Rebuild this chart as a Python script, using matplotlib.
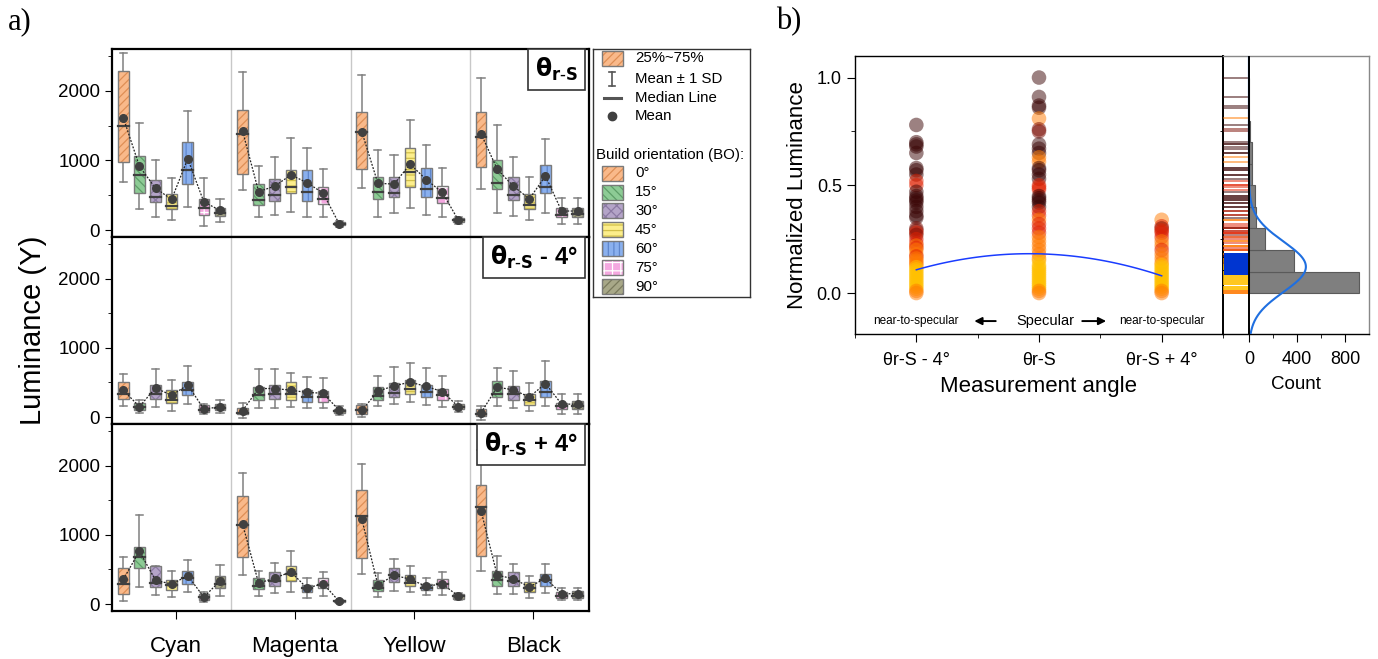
import numpy as np
import matplotlib
matplotlib.use("Agg")
import matplotlib.pyplot as plt
from matplotlib.patches import Rectangle

plt.rcParams['font.family'] = ['Liberation Sans', 'DejaVu Sans']
plt.rcParams['hatch.linewidth'] = 0.9

# ---------------- panel a data ----------------
inks = ['Cyan', 'Magenta', 'Yellow', 'Black']
orientations = ['0°', '15°', '30°', '45°', '60°', '75°', '90°']

# rows = ink, cols = build orientation
spec_q1 = [[974, 537, 398, 297, 662, 221, 201],
           [801, 360, 422, 532, 422, 374, 67],
           [878, 451, 470, 623, 470, 388, 120],
           [911, 595, 427, 302, 532, 182, 182]]
spec_med = [[1496, 787, 475, 345, 863, 312, 249],
            [1376, 427, 499, 623, 542, 441, 86],
            [1410, 542, 528, 839, 595, 456, 144],
            [1338, 681, 504, 360, 619, 216, 230]]
spec_q3 = [[2288, 1060, 724, 518, 1266, 451, 317],
           [1717, 662, 739, 858, 858, 619, 110],
           [1698, 758, 763, 1175, 887, 628, 168],
           [1698, 1002, 758, 518, 935, 321, 321]]
spec_mean = [[1614, 916, 600, 441, 1024, 403, 283],
             [1422, 551, 631, 791, 681, 530, 88],
             [1412, 671, 660, 947, 724, 540, 139],
             [1384, 875, 630, 448, 777, 273, 273]]
spec_sd = [[928, 619, 408, 302, 688, 340, 168],
           [846, 370, 415, 532, 499, 348, 40],
           [812, 480, 420, 636, 504, 348, 48],
           [794, 636, 425, 310, 537, 182, 182]]

minus_q1 = [[254, 96, 259, 206, 317, 67, 96],
            [38, 240, 259, 249, 216, 211, 58],
            [48, 240, 297, 336, 297, 249, 110],
            [19, 288, 249, 173, 297, 110, 110]]
minus_med = [[326, 144, 336, 249, 393, 106, 134],
             [62, 317, 336, 326, 288, 288, 91],
             [96, 307, 350, 403, 355, 312, 144],
             [48, 336, 326, 240, 365, 153, 153]]
minus_q3 = [[508, 201, 460, 393, 508, 168, 182],
            [134, 432, 465, 504, 393, 379, 120],
            [168, 441, 494, 537, 456, 403, 182],
            [115, 518, 451, 326, 528, 201, 230]]
minus_mean = [[388, 151, 420, 314, 465, 115, 149],
              [93, 412, 412, 388, 355, 345, 96],
              [96, 374, 451, 504, 443, 367, 149],
              [62, 432, 393, 290, 484, 187, 187]]
minus_sd = [[235, 89, 276, 223, 273, 77, 91],
            [107, 278, 278, 245, 230, 220, 62],
            [96, 221, 269, 283, 262, 223, 77],
            [100, 278, 268, 199, 321, 139, 139]]

plus_q1 = [[149, 519, 245, 207, 284, 63, 231],
           [683, 216, 264, 332, 168, 226, 24],
           [663, 192, 313, 255, 197, 226, 72],
           [697, 255, 264, 178, 255, 87, 87]]
plus_med = [[284, 673, 303, 274, 380, 96, 284],
            [1139, 255, 327, 438, 231, 274, 38],
            [1274, 231, 418, 303, 226, 284, 111],
            [1399, 351, 337, 231, 341, 120, 120]]
plus_q3 = [[519, 822, 553, 341, 471, 149, 399],
           [1558, 375, 457, 543, 269, 370, 63],
           [1640, 341, 514, 418, 293, 361, 149],
           [1716, 481, 457, 313, 438, 168, 183]]
plus_mean = [[356, 764, 344, 288, 409, 101, 334],
             [1158, 300, 377, 464, 231, 295, 38],
             [1228, 274, 416, 360, 255, 293, 111],
             [1348, 418, 365, 248, 372, 149, 149]]
plus_sd = [[318, 520, 209, 183, 231, 72, 224],
           [740, 180, 223, 296, 142, 175, 20],
           [791, 168, 233, 192, 125, 163, 48],
           [877, 270, 216, 161, 205, 84, 88]]

box_face = ['#F9B98A', '#8DCB95', '#B4A4C8', '#FCEE8C', '#8AB0EE', '#F4A8E0', '#A8A888']
box_hatch_col = ['#DE8E55', '#5E9E68', '#8C7AA4', '#D2C04A', '#5F86CC', '#FFFFFF', '#7A7A5C']
box_hatch = ['////', '\\\\\\\\', 'xxx', '---', '|||', '++', '////']

# ---------------- panel b data ----------------
angle_labels = ['θr-S - 4°', 'θr-S', 'θr-S + 4°']

minus4_vals = [0.78, 0.70, 0.69, 0.68, 0.65, 0.58, 0.57, 0.55, 0.52, 0.50,
               0.47, 0.45, 0.44, 0.43, 0.42, 0.40, 0.38, 0.36, 0.35, 0.30,
               0.29, 0.28, 0.27, 0.25, 0.23, 0.22, 0.21, 0.20, 0.18, 0.17,
               0.16, 0.15, 0.14, 0.13, 0.12, 0.11, 0.10, 0.09, 0.08, 0.07,
               0.06, 0.05, 0.04, 0.03, 0.02, 0.01, 0.0]
minus4_cols = 'KKKKKKKKRRKKKKKKKKKDDRDRROROOROOOOYYYYYYYYYYYOO'
spec_vals = [1.0, 0.91, 0.87, 0.86, 0.81, 0.76, 0.75, 0.69, 0.67, 0.65,
             0.63, 0.61, 0.58, 0.57, 0.55, 0.53, 0.50, 0.49, 0.48, 0.45,
             0.44, 0.43, 0.42, 0.40, 0.38, 0.36, 0.34, 0.32, 0.30, 0.28,
             0.26, 0.24, 0.22, 0.20, 0.18, 0.16, 0.15, 0.13, 0.12, 0.11,
             0.10, 0.09, 0.08, 0.07, 0.06, 0.05, 0.04, 0.03, 0.02, 0.01, 0.0]
spec_cols = 'KKKKODDKKKOOKKKKRRRKKKKKRRORRROOOOOOYYYYYYYYYYYYYOO'
plus4_vals = [0.34, 0.31, 0.30, 0.29, 0.28, 0.26, 0.24, 0.22, 0.20, 0.18,
              0.16, 0.14, 0.13, 0.12, 0.11, 0.10, 0.09, 0.08, 0.07, 0.06,
              0.05, 0.04, 0.03, 0.02, 0.01, 0.0]
plus4_cols = 'ORDRRROOROOOYYYYYYYYYYYYOO'
point_palette = {'Y': '#FFC000', 'O': '#FF7A00', 'R': '#E02000',
                 'D': '#7A0A00', 'K': '#3A0505'}

# mean normalized luminance per angle (fit curve)
angle_means = [0.108, 0.182, 0.080]

# histogram of all normalized values
hist_edges = [0.0, 0.1, 0.2, 0.3, 0.4, 0.5, 0.6, 0.7, 0.8, 0.9, 1.0]
hist_counts = [910, 370, 135, 55, 48, 25, 22, 6, 3, 3]
fit_mu, fit_sigma, fit_peak = 0.122, 0.117, 472
rug_band = (0.085, 0.185)

# ---------------- figure ----------------
fig = plt.figure(figsize=(13.78, 6.59), dpi=100)
W, H = 1378, 659


def fig_rect(x0, y0, x1, y1):
    return [x0 / W, 1 - y1 / H, (x1 - x0) / W, (y1 - y0) / H]


GROUP_W = 7.4
panel_defs = [
    (fig_rect(112, 49, 589, 237), spec_q1, spec_med, spec_q3, spec_mean, spec_sd,
     r'$\mathbf{\theta_{r{\text{-}}S}}$'),
    (fig_rect(112, 237, 589, 424), minus_q1, minus_med, minus_q3, minus_mean, minus_sd,
     r'$\mathbf{\theta_{r{\text{-}}S}}$ - 4°'),
    (fig_rect(112, 424, 589, 611), plus_q1, plus_med, plus_q3, plus_mean, plus_sd,
     r'$\mathbf{\theta_{r{\text{-}}S}}$ + 4°'),
]

box_axes = []
for k, (rect, q1, med, q3, mean, sd, tag) in enumerate(panel_defs):
    ax = fig.add_axes(rect)
    box_axes.append(ax)
    q1, med, q3 = np.array(q1), np.array(med), np.array(q3)
    mean, sd = np.array(mean), np.array(sd)
    for g in range(len(inks)):
        centre = g * GROUP_W + GROUP_W / 2
        xs = centre + np.arange(7) - 3
        for i, x in enumerate(xs):
            lo, hi = mean[g, i] - sd[g, i], mean[g, i] + sd[g, i]
            ax.plot([x, x], [lo, hi], color='#808080', lw=1.1, zorder=1)
            ax.plot([x - 0.22, x + 0.22], [lo, lo], color='#808080', lw=1.1, zorder=1)
            ax.plot([x - 0.22, x + 0.22], [hi, hi], color='#808080', lw=1.1, zorder=1)
            ax.add_patch(Rectangle((x - 0.33, q1[g, i]), 0.66, q3[g, i] - q1[g, i],
                                   facecolor=box_face[i], edgecolor=box_hatch_col[i],
                                   hatch=box_hatch[i], lw=0, zorder=2))
            ax.add_patch(Rectangle((x - 0.33, q1[g, i]), 0.66, q3[g, i] - q1[g, i],
                                   fill=False, edgecolor='#7a7a7a', lw=1.0, zorder=3))
            ax.plot([x - 0.33, x + 0.33], [med[g, i], med[g, i]], color='#404040',
                    lw=1.6, zorder=4)
        ax.plot(xs, mean[g], color='#222222', lw=0.9, ls=(0, (1.5, 1.2)), zorder=5)
        ax.plot(xs, mean[g], 'o', color='#404040', ms=5.5, zorder=6)
        if g > 0:
            ax.axvline(g * GROUP_W, color='#c8c8c8', lw=1, zorder=0)
    ax.set_xlim(0, GROUP_W * len(inks))
    ax.set_ylim(-100, 2600)
    ax.set_yticks([0, 1000, 2000])
    ax.set_yticks([500, 1500, 2500], minor=True)
    ax.tick_params(axis='y', direction='out', length=5, labelsize=13.5)
    ax.tick_params(axis='y', which='minor', direction='out', length=3)
    for s in ax.spines.values():
        s.set_linewidth(1.6)
    if k < 2:
        ax.set_xticks([])
    else:
        ax.set_xticks([g * GROUP_W + GROUP_W / 2 + 0.25 for g in range(len(inks))])
        ax.set_xticklabels(inks, fontsize=16)
        ax.tick_params(axis='x', direction='out', length=6, pad=12)
    ax.text(0.977, 0.962, tag, transform=ax.transAxes, ha='right', va='top',
            fontsize=17, fontweight='bold', zorder=10,
            bbox=dict(boxstyle='square,pad=0.3', fc='white', ec='#333333', lw=1.2))

fig.text(33 / W, 1 - 330 / H, 'Luminance (Y)', rotation=90, ha='center', va='center',
         fontsize=21)
fig.text(8 / W, 1 - 22 / H, 'a)', fontsize=22, family='Liberation Serif',
         ha='left', va='center')
fig.text(776 / W, 1 - 22 / H, 'b)', fontsize=22, family='Liberation Serif',
         ha='left', va='center')

# ---------------- legend for panel a ----------------
leg = fig.add_axes(fig_rect(593, 49, 750, 297))
leg.set_xlim(593, 750)
leg.set_ylim(297, 49)
leg.set_xticks([])
leg.set_yticks([])
for s in leg.spines.values():
    s.set_linewidth(1.0)
    s.set_color('#333333')
lfs = 10.8
tx = 635
leg.add_patch(Rectangle((602, 51), 21, 15, facecolor=box_face[0], edgecolor=box_hatch_col[0],
                        hatch=box_hatch[0], lw=0))
leg.add_patch(Rectangle((602, 51), 21, 15, fill=False, edgecolor='#7a7a7a', lw=1))
leg.text(tx, 58.5, '25%~75%', fontsize=lfs, va='center')
leg.plot([612.5, 612.5], [72, 86], color='#555555', lw=1.2)
leg.plot([609.5, 615.5], [72, 72], color='#555555', lw=1.2)
leg.plot([609.5, 615.5], [86, 86], color='#555555', lw=1.2)
leg.text(tx, 79, 'Mean ± 1 SD', fontsize=lfs, va='center')
leg.plot([604, 621], [98, 98], color='#555555', lw=2.2)
leg.text(tx, 98, 'Median Line', fontsize=lfs, va='center')
leg.plot([612.5], [116], 'o', color='#404040', ms=6)
leg.text(tx, 116, 'Mean', fontsize=lfs, va='center')
leg.text(596, 155, 'Build orientation (BO):', fontsize=lfs, va='center')
for i, lab in enumerate(orientations):
    yc = 173 + i * 19
    leg.add_patch(Rectangle((602, yc - 7.5), 21, 15, facecolor=box_face[i],
                            edgecolor=box_hatch_col[i], hatch=box_hatch[i], lw=0))
    leg.add_patch(Rectangle((602, yc - 7.5), 21, 15, fill=False, edgecolor='#7a7a7a', lw=1))
    leg.text(tx, yc, lab, fontsize=lfs, va='center')

# ---------------- panel b scatter ----------------
axs = fig.add_axes(fig_rect(855, 56, 1223, 334))
for xi, (vals, cols) in enumerate([(minus4_vals, minus4_cols), (spec_vals, spec_cols),
                                    (plus4_vals, plus4_cols)]):
    axs.scatter(np.full(len(vals), xi), vals, s=110,
                c=[point_palette[c] for c in cols], alpha=0.5, edgecolors='none',
                zorder=3)

fit = np.polyfit([0, 1, 2], angle_means, 2)
xx = np.linspace(0, 2, 100)
axs.plot(xx, np.polyval(fit, xx), color='#1a3cff', lw=1.1, zorder=4)

axs.set_xlim(-0.5, 2.5)
axs.set_ylim(-0.19, 1.1)
axs.set_xticks([0, 1, 2])
axs.set_xticks([-0.5, 0.5, 1.5, 2.5], minor=True)
axs.set_xticklabels(angle_labels, fontsize=13)
axs.set_yticks([0, 0.5, 1.0])
axs.set_yticklabels(['0.0', '0.5', '1.0'])
axs.set_yticks([0.25, 0.75], minor=True)
axs.tick_params(axis='both', direction='out', length=6, labelsize=13)
axs.tick_params(axis='x', pad=7)
axs.tick_params(which='minor', direction='out', length=3)
axs.set_ylabel('Normalized Luminance', fontsize=16, labelpad=6)
axs.set_xlabel('Measurement angle', fontsize=16, labelpad=5)
for s in axs.spines.values():
    s.set_linewidth(1.0)

y_ann = -0.13
axs.text(0.0, y_ann, 'near-to-specular', fontsize=8.5, ha='center', va='center')
axs.text(1.05, y_ann, 'Specular', fontsize=10.5, ha='center', va='center')
axs.text(2.0, y_ann, 'near-to-specular', fontsize=8.5, ha='center', va='center')
arrow = dict(arrowstyle='-|>', color='black', lw=1.4, mutation_scale=11)
axs.annotate('', xy=(0.45, y_ann), xytext=(0.67, y_ann), arrowprops=arrow)
axs.annotate('', xy=(1.57, y_ann), xytext=(1.33, y_ann), arrowprops=arrow)

# ---------------- panel b histogram ----------------
axh = fig.add_axes(fig_rect(1223, 56, 1369, 334), sharey=axs)
edges = np.array(hist_edges)
axh.barh(edges[:-1], hist_counts, height=np.diff(edges), align='edge',
         color='#7f7f7f', edgecolor='#5a5a5a', lw=0.8, zorder=2)

yy = np.linspace(-0.19, 1.1, 300)
axh.plot(fit_peak * np.exp(-0.5 * ((yy - fit_mu) / fit_sigma) ** 2), yy,
         color='#1f6fe0', lw=1.5, zorder=4)

# rug of every plotted point in the strip left of zero
all_vals = minus4_vals + spec_vals + plus4_vals
all_cols = minus4_cols + spec_cols + plus4_cols
for v, c in zip(all_vals, all_cols):
    axh.plot([-205, -5], [v, v], color=point_palette[c], alpha=0.6, lw=1.2, zorder=3)
axh.add_patch(Rectangle((-205, rug_band[0]), 200, rug_band[1] - rug_band[0],
                        facecolor='#0035D0', edgecolor='none', zorder=3))
axh.axvline(0, color='black', lw=1.4, zorder=5)

axh.set_xlim(-215, 995)
axh.set_xticks([0, 400, 800])
axh.set_xticks([200, 600], minor=True)
axh.tick_params(axis='x', direction='out', length=6, labelsize=13, pad=6)
axh.tick_params(axis='x', which='minor', direction='out', length=3)
axh.tick_params(axis='y', left=False, labelleft=False)
axh.set_xlabel('Count', fontsize=13.5, labelpad=6)
for name, s in axh.spines.items():
    s.set_linewidth(1.0)
axh.spines['left'].set_linewidth(1.4)
axh.spines['right'].set_color('#888888')
axh.spines['top'].set_color('#888888')

fig.savefig('out.png', dpi=100)
